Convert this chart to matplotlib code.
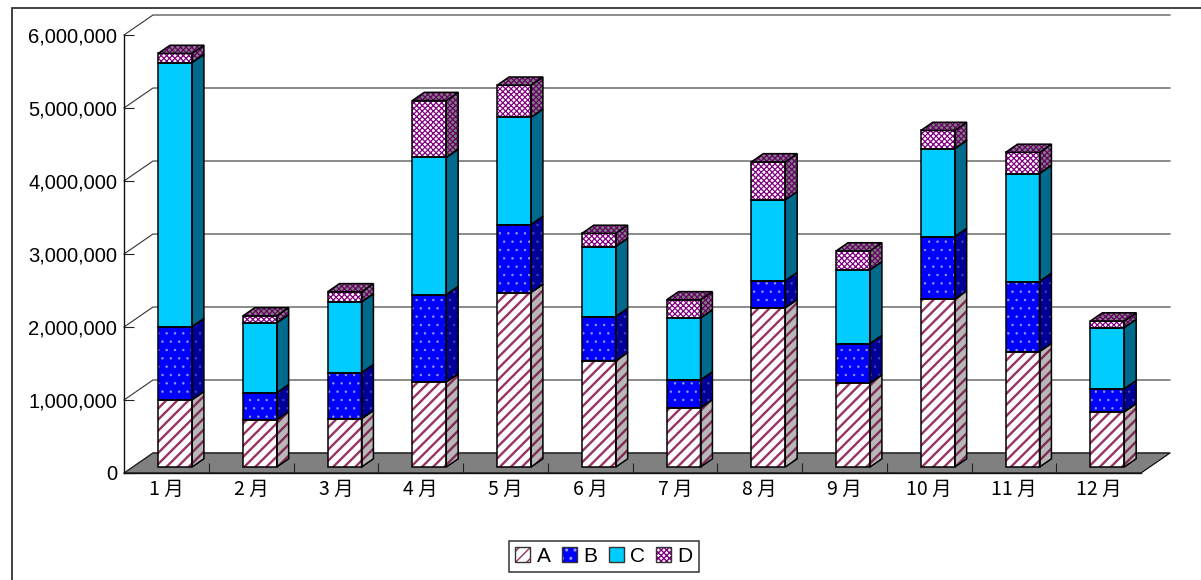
"""Monthly stacked bars A-D, drawn with a hand-made 3D look."""
import matplotlib

matplotlib.use("Agg")
import matplotlib.pyplot as plt
import numpy as np
from matplotlib.legend_handler import HandlerTuple
from matplotlib.patches import Patch, Polygon, Rectangle
from matplotlib.transforms import IdentityTransform

months = ["1月", "2月", "3月", "4月", "5月", "6月", "7月", "8月", "9月", "10月", "11月", "12月"]
series_names = ["A", "B", "C", "D"]
a_vals = [920000, 645000, 660000, 1165000, 2390000, 1455000, 810000, 2180000, 1150000, 2300000, 1580000, 755000]
b_vals = [1000000, 370000, 630000, 1195000, 930000, 605000, 380000, 370000, 540000, 855000, 960000, 315000]
c_vals = [3620000, 960000, 970000, 1880000, 1470000, 960000, 850000, 1110000, 1010000, 1205000, 1480000, 840000]
d_vals = [125000, 95000, 140000, 780000, 440000, 180000, 250000, 520000, 260000, 250000, 290000, 90000]
y_ticks = [0, 1000000, 2000000, 3000000, 4000000, 5000000, 6000000]

face = ["white", "#0000ff", "#00ccff", "white"]
hatch_col = ["#993366", "#9999ff", "#00ccff", "#800080"]
hatches = ["///", "..", None, "xxxxxx"]
hatch_lw = [1.7, 0.5, 1.0, 0.9]
side = ["#b8b8b8", "#000099", "#006a8c", "#808080"]
side_hatch = ["#802b55", "#4444bb", "#006a8c", "#660066"]

W, H = 1201, 580
plt.rcParams["font.family"] = ["Liberation Sans", "Noto Sans CJK JP"]

fig = plt.figure(figsize=(W / 100, H / 100), dpi=100)
ax = fig.add_axes([124 / W, 1 - 473 / H, (1141 - 124) / W, (473 - 35) / H])
ax.set_xlim(0, 12)
ax.set_ylim(0, 6000000)

depth = np.array([29.0, 20.0])
BAR_W = 0.40


def project(x, y, d):
    # data position pushed back by a fraction of the chart depth, in pixels
    return ax.transData.transform((x, y)) + d * depth


def quad(points, fc, k=None, hc=None, z=3):
    if k is not None and hatches[k]:
        with plt.rc_context({"hatch.linewidth": hatch_lw[k]}):
            ax.add_patch(Polygon(points, closed=True, transform=IdentityTransform(), facecolor=fc,
                                 edgecolor=hc, hatch=hatches[k], lw=0, zorder=z, clip_on=False))
    else:
        ax.add_patch(Polygon(points, closed=True, transform=IdentityTransform(), facecolor=fc,
                             edgecolor="none", zorder=z, clip_on=False))
    ax.add_patch(Polygon(points, closed=True, transform=IdentityTransform(), fill=False,
                         edgecolor="black", lw=1.1, zorder=z + 0.1, clip_on=False))


# outer chart frame
fig.add_artist(Rectangle((12 / W, -0.1), 1.2, 1 - 8 / H + 0.1, transform=fig.transFigure,
                         fill=False, edgecolor="#333333", lw=1.3))

# floor
floor = [project(0, 0, 0), project(0, 0, 1), project(12, 0, 1), project(12, 0, 0)]
ax.add_patch(Polygon(floor, closed=True, transform=IdentityTransform(), facecolor="#808080",
                     edgecolor="black", lw=0.8, zorder=1, clip_on=False))

# back wall gridlines and the diagonals on the side wall
for val in y_ticks:
    p0, p1, p2 = project(0, val, 0), project(0, val, 1), project(12, val, 1)
    ax.plot([p0[0], p1[0], p2[0]], [p0[1], p1[1], p2[1]], color="#333333", lw=0.8,
            transform=IdentityTransform(), zorder=1.5, clip_on=False)

# stacked bars, bottom segment first
series = [a_vals, b_vals, c_vals, d_vals]
for i in range(len(months)):
    cx = i + 0.5
    x0, x1 = cx - BAR_W / 2, cx + BAR_W / 2
    bottom = 0
    for k, vals in enumerate(series):
        y0, y1 = bottom, bottom + vals[i]
        front = [project(x0, y0, 0.3), project(x1, y0, 0.3), project(x1, y1, 0.3), project(x0, y1, 0.3)]
        right = [project(x1, y0, 0.3), project(x1, y0, 0.71), project(x1, y1, 0.71), project(x1, y1, 0.3)]
        quad(right, side[k], k, side_hatch[k], z=3 + i + k * 0.01)
        quad(front, face[k], k, hatch_col[k], z=3 + i + k * 0.01)
        bottom = y1
    cap = [project(x0, bottom, 0.3), project(x1, bottom, 0.3), project(x1, bottom, 0.71), project(x0, bottom, 0.71)]
    quad(cap, side[3], 3, side_hatch[3], z=3.5 + i)

ax.set_yticks(y_ticks)
ax.set_yticklabels([f"{v:,}" for v in y_ticks], fontsize=14.5)
ax.tick_params(axis="y", direction="in", length=7, width=0.8, color="#222222", pad=5)
ax.set_xticks(np.arange(12) + 0.5)
ax.set_xticklabels([m.replace("月", " 月") for m in months], fontsize=14, family=["Noto Sans CJK JP"])
ax.tick_params(axis="x", which="major", length=0, pad=4)
ax.set_xticks(np.arange(1, 12), minor=True)
ax.tick_params(axis="x", which="minor", direction="in", length=7, width=0.8, color="#222222")
ax.patch.set_visible(False)
for name in ["top", "right"]:
    ax.spines[name].set_visible(False)
for name in ["left", "bottom"]:
    ax.spines[name].set_color("#111111")
    ax.spines[name].set_linewidth(1.0)
    ax.spines[name].set_zorder(2)

handles = []
for k in range(4):
    with plt.rc_context({"hatch.linewidth": hatch_lw[k]}):
        fill = Patch(facecolor=face[k], edgecolor=hatch_col[k], hatch=hatches[k], lw=0)
    handles.append((fill, Patch(fill=False, edgecolor="#333333", lw=1.0)))
leg = fig.legend(handles, series_names, ncols=4, loc="center", bbox_to_anchor=(604 / W, 1 - 556.5 / H),
                 handler_map={tuple: HandlerTuple(ndivide=1, pad=0)},
                 fontsize=15, frameon=True, fancybox=False, edgecolor="#333333", framealpha=1,
                 handlelength=0.72, handleheight=0.72, handletextpad=0.3, columnspacing=0.55,
                 borderpad=0.3)
leg.get_frame().set_linewidth(1.1)

fig.savefig("out.png", dpi=100)
plt.close(fig)
